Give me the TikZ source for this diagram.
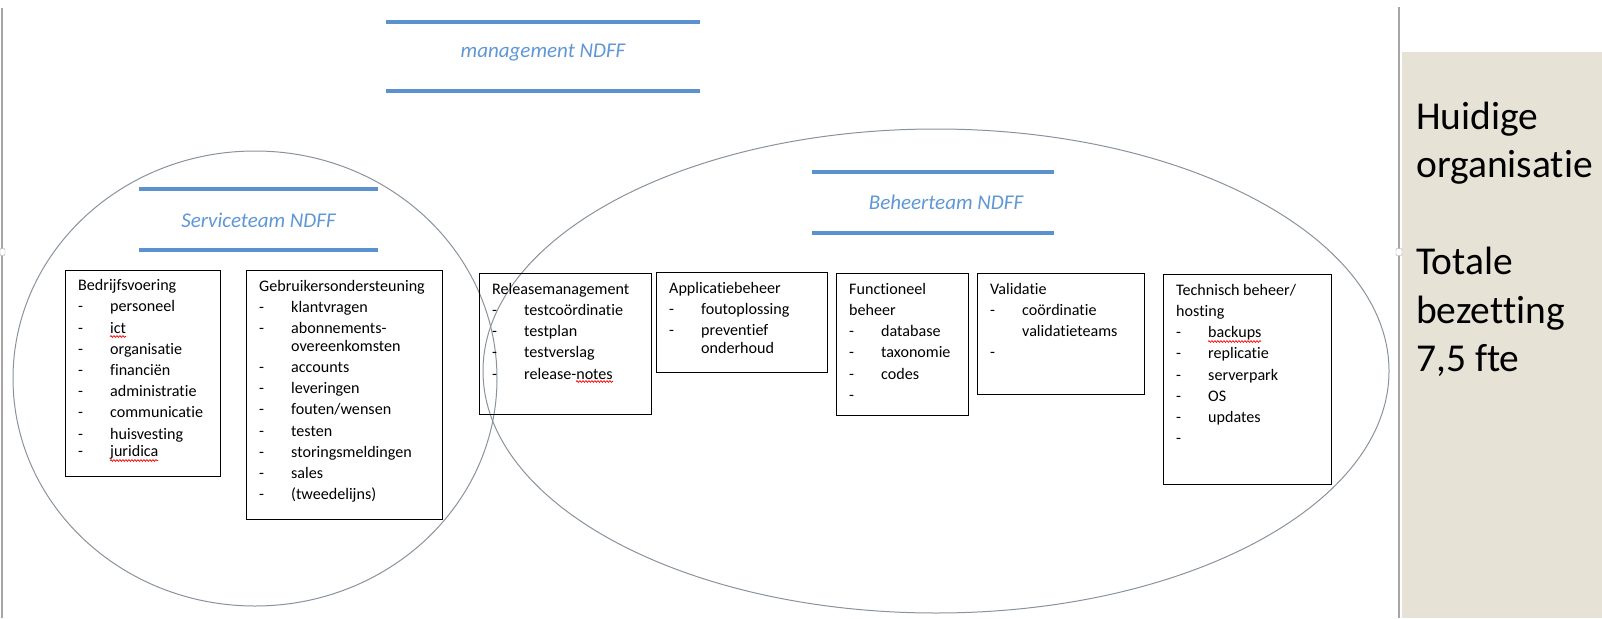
\documentclass[tikz,border=0pt]{standalone}
\usepackage{fontspec}
\setmainfont{Carlito}[Ligatures={NoCommon}]
\usetikzlibrary{decorations.pathmorphing}
\definecolor{barblue}{HTML}{5B91CF}
\definecolor{titleblue}{HTML}{5F97D6}
\definecolor{ellgray}{HTML}{8A929C}
\definecolor{panelbg}{HTML}{E6E3D6}
\definecolor{framegray}{HTML}{A6A6A6}
\newcommand\itm[1]{\makebox[32pt][l]{-}#1}
\newcommand\ind[1]{\hspace*{32pt}#1}
\begin{document}
\begin{tikzpicture}[x=1pt,y=-1pt,
  bar/.style={draw=barblue, line width=4.5pt},
  ttl/.style={font=\fontsize{21}{25}\selectfont\itshape, text=titleblue, anchor=base, inner sep=0pt},
  orgbox/.style={draw=black, line width=1.1pt, anchor=north west, inner sep=0pt},
  boxtext/.style={anchor=north west, inner sep=0pt, align=left, font=\fontsize{16.1}{21.2}\selectfont, xshift=13pt, yshift=-6.16pt},
  team/.style={draw=ellgray, line width=1pt},
  squig/.style={draw=red, line width=0.7pt, decorate, decoration={snake, segment length=3pt, amplitude=0.9pt}}
]
\useasboundingbox (0,0) rectangle (1602,618);
% frame and panel
\fill[panelbg] (1401.5,52) rectangle (1602,618);
\draw[framegray, line width=2pt] (1.5,8) -- (1.5,618);
\draw[framegray, line width=1.2pt] (1399,7) -- (1399,618);
\draw[framegray, fill=white, rounded corners=1pt] (0,248.5) rectangle (5,255.5);
\draw[framegray, fill=white, rounded corners=1pt] (1396,248.5) rectangle (1402,255.5);
% team ellipses
\draw[team] (255,378.5) ellipse [x radius=242pt, y radius=227.5pt];
\draw[team] (936,371) ellipse [x radius=453pt, y radius=242pt];
% title bars
\draw[bar] (386,22) -- (700,22);
\draw[bar] (386,91) -- (700,91);
\node[ttl] (mg) at (543,58) {management NDFF};
\draw[bar] (139,189) -- (378,189);
\draw[bar] (139,250) -- (378,250);
\node[ttl] (st) at (258.5,227) {Serviceteam NDFF};
\draw[bar] (812,172) -- (1054,172);
\draw[bar] (812,233) -- (1054,233);
\node[ttl] (bt) at (946,209) {Beheerteam NDFF};
% boxes
\node[orgbox, minimum width=155pt, minimum height=206pt] (bv) at (65,269.5) {};
\node[boxtext] (bvt) at (bv.north west) {\strut Bedrijfsvoering\\ \itm{personeel}\\ \itm{ict}\\ \itm{organisatie}\\ \itm{financiën}\\ \itm{administratie}\\ \itm{communicatie}\\ \itm{huisvesting}\\[-3.5pt] \itm{juridica}};
\node[orgbox, minimum width=196pt, minimum height=249pt] (gb) at (246,270) {};
\node[boxtext] (gbt) at (gb.north west) {\strut Gebruikersondersteuning\\ \itm{klantvragen}\\ \itm{abonnements-}\\[-3.5pt] \ind{overeenkomsten}\\ \itm{accounts}\\ \itm{leveringen}\\ \itm{fouten/wensen}\\ \itm{testen}\\ \itm{storingsmeldingen}\\ \itm{sales}\\ \itm{(tweedelijns)}};
\node[orgbox, minimum width=172pt, minimum height=141pt] (rm) at (479,273) {};
\node[boxtext] (rmt) at (rm.north west) {\strut Releasemanagement\\ \itm{testcoördinatie}\\ \itm{testplan}\\ \itm{testverslag}\\ \itm{release-notes}};
\node[orgbox, minimum width=171pt, minimum height=100pt] (ab) at (656,272) {};
\node[boxtext] (abt) at (ab.north west) {\strut Applicatiebeheer\\ \itm{foutoplossing}\\ \itm{preventief}\\[-3.5pt] \ind{onderhoud}};
\node[orgbox, minimum width=132pt, minimum height=142pt] (fb) at (836,273) {};
\node[boxtext] (fbt) at (fb.north west) {\strut Functioneel\\ beheer\\ \itm{database}\\ \itm{taxonomie}\\ \itm{codes}\\ -};
\node[orgbox, minimum width=167pt, minimum height=121pt] (va) at (977,273) {};
\node[boxtext] (vat) at (va.north west) {\strut Validatie\\ \itm{coördinatie}\\ \ind{validatieteams}\\ -};
\node[orgbox, minimum width=168pt, minimum height=210pt] (tb) at (1163,274) {};
\node[boxtext] (tbt) at (tb.north west) {\strut Technisch beheer/\\ hosting\\ \itm{backups}\\ \itm{replicatie}\\ \itm{serverpark}\\ \itm{OS}\\ \itm{updates}\\ -};
% spell-check squiggles
\draw[squig] (110,336.5) -- (126,336.5);
\draw[squig] (110,460.5) -- (158,460.5);
\draw[squig] (576,381.5) -- (613,381.5);
\draw[squig] (1208,341.5) -- (1261,341.5);
% side panel text
\node[anchor=north west, inner sep=0pt, align=left, font=\fontsize{39.5}{48.5}\selectfont] (pnl) at (1416,95) {\strut Huidige\\ organisatie\\[48.5pt] Totale\\ bezetting\\ 7,5 fte};
\end{tikzpicture}
\end{document}
